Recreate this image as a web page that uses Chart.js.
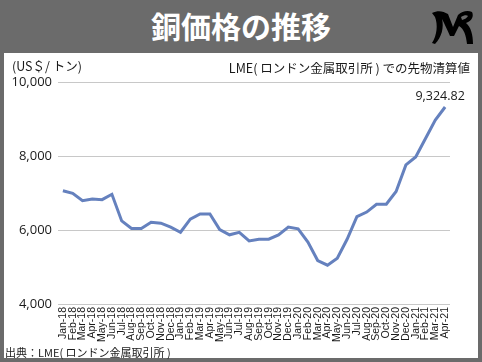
<!DOCTYPE html>
<html><head><meta charset="utf-8">
<script src="https://cdn.jsdelivr.net/npm/chart.js@4/dist/chart.umd.min.js"></script>
<style>
html,body{margin:0;padding:0;}
body{width:482px;height:362px;background:#6b6b6b;position:relative;overflow:hidden;font-family:"Noto Sans CJK JP","Noto Sans",sans-serif;}
#white{position:absolute;left:4px;top:53px;width:474px;height:305px;background:#fff;}
#title{position:absolute;left:0;top:0;width:482px;height:53px;line-height:50px;text-align:center;color:#fff;font-weight:bold;font-size:30px;}
#logo{position:absolute;left:428px;top:7px;}
.t{position:absolute;color:#1a1a1a;white-space:nowrap;font-size:12.5px;}
#cv{position:absolute;left:0;top:0;}
</style></head><body>
<div id="title">銅価格の推移</div>
<svg id="logo" width="50" height="42" viewBox="0 0 50 42">
<path d="M4 6 C10 3 15 4 20 7 L25 20 L30 8 C34 4 40 3 44 5 C46 9 44 14 38 16 C43 20 45 28 45 37 L39 37 C38 28 36 22 31 19 L26 29 L22 29 C19 22 16 16 14 12 C16 20 14 30 7 37 L4 36 C9 28 10 18 7 10 Z" fill="#000"/>
<path d="M33 10 C36 8 39 8 40 9 C39 11 37 12 34 13 Z" fill="#6b6b6b"/>
</svg>
<div id="white">
<canvas id="cv" width="474" height="305"></canvas>
<div class="t" style="left:8px;top:3px;">(US＄/ トン)</div>
<div class="t" style="right:8px;top:5px;">LME( ロンドン金属取引所 ) での先物清算値</div>
<div class="t" style="left:1px;top:291px;font-size:11px;line-height:16px;">出典：LME( ロンドン金属取引所 )</div>
</div>
<script>
const categories = ["Jan-18","Feb-18","Mar-18","Apr-18","May-18","Jun-18","Jul-18","Aug-18","Sep-18","Oct-18","Nov-18","Dec-18",
"Jan-19","Feb-19","Mar-19","Apr-19","May-19","Jun-19","Jul-19","Aug-19","Sep-19","Oct-19","Nov-19","Dec-19",
"Jan-20","Feb-20","Mar-20","Apr-20","May-20","Jun-20","Jul-20","Aug-20","Sep-20","Oct-20","Nov-20","Dec-20",
"Jan-21","Feb-21","Mar-21","Apr-21"];
const copperPrice = [7062,6990,6790,6840,6820,6965,6245,6040,6040,6210,6185,6075,
5940,6295,6435,6435,6010,5870,5935,5705,5750,5750,5865,6080,
6030,5675,5175,5050,5235,5750,6360,6485,6695,6695,7040,7760,
7975,8475,8970,9324.82];
const yTicks = [4000,6000,8000,10000];
const lastLabel = "9,324.82";

const labelPlugin = {
  id:'lastLabel',
  afterDatasetsDraw(chart){
    const meta = chart.getDatasetMeta(0);
    const p = meta.data[meta.data.length-1];
    const ctx = chart.ctx;
    ctx.save();
    ctx.font = '12.5px "Open Sans"';
    ctx.fillStyle = '#1a1a1a';
    ctx.textAlign = 'center';
    ctx.textBaseline = 'bottom';
    ctx.fillText(lastLabel, p.x - 5, p.y - 4);
    ctx.restore();
  }
};

new Chart(document.getElementById('cv'), {
  type:'line',
  data:{labels:categories, datasets:[{data:copperPrice, borderColor:'#6581be', borderWidth:3, pointRadius:0, tension:0, fill:false}]},
  options:{
    responsive:false, animation:false,
    layout:{padding:{left:0,right:28,top:29,bottom:0}},
    plugins:{legend:{display:false}, tooltip:{enabled:false}},
    scales:{
      x:{
        offset:true,
        grid:{display:false, drawTicks:false},
        border:{display:false},
        ticks:{autoSkip:false, maxRotation:90, minRotation:90, padding:3, color:'#1a1a1a', font:{family:'"Liberation Sans"', size:10.5}},
        afterFit(s){ s.height = 54; }
      },
      y:{
        min:4000, max:10000,
        afterBuildTicks(s){ s.ticks = yTicks.map(v=>({value:v})); },
        grid:{color:'#c8c8c8', lineWidth:1, drawTicks:false},
        border:{display:false},
        ticks:{padding:6, color:'#1a1a1a', font:{family:'"Open Sans"', size:13}, callback:v=>v.toLocaleString('en-US')},
        afterFit(s){ s.width = 54; }
      }
    }
  },
  plugins:[labelPlugin]
});
</script>
</body></html>
